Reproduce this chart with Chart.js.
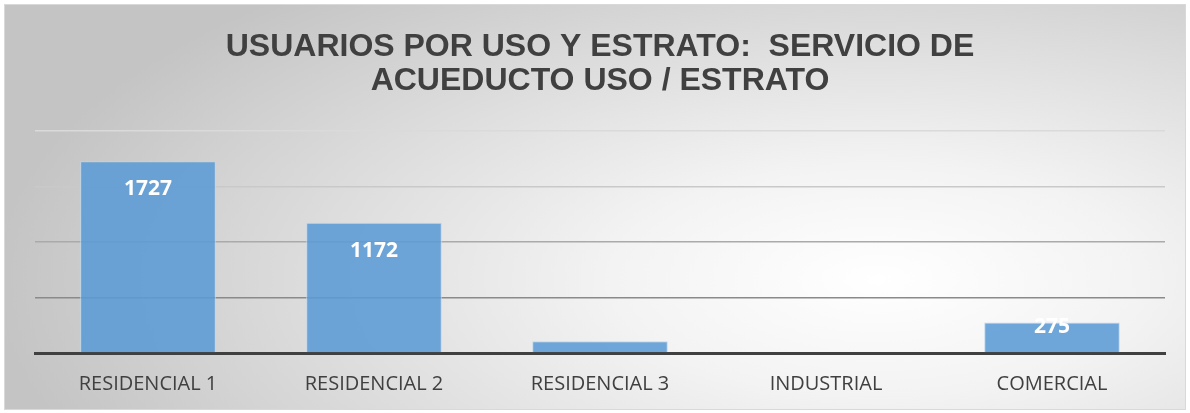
<!DOCTYPE html>
<html>
<head>
<meta charset="utf-8">
<script src="https://cdn.jsdelivr.net/npm/chart.js@4"></script>
<style>
  body { margin: 0; background: #fff; }
  #frame {
    position: absolute; left: 4px; top: 4px; width: 1182px; height: 406px;
    box-sizing: border-box; border: 1px solid #d9d9d9;
    background: radial-gradient(ellipse 75% 95% at 74% 68%, #ffffff 0%, #f3f3f3 30%, #dcdcdc 65%, #c4c4c4 100%);
  }
  #frame canvas { display: block; }
</style>
</head>
<body>
<div id="frame"><canvas id="usoChart" width="1180" height="404"></canvas></div>
<script>
var categorias = ["RESIDENCIAL 1", "RESIDENCIAL 2", "RESIDENCIAL 3", "INDUSTRIAL", "COMERCIAL"];
var usuarios = [1727, 1172, 105, 0, 275];
var tituloLineas = ["USUARIOS POR USO Y ESTRATO:  SERVICIO DE", "ACUEDUCTO USO / ESTRATO"];
var gridColores = { 500: '#8a8a8a', 1000: '#aaaaaa', 1500: '#c9c9c9', 2000: '#dadada' };

// etiquetas blancas dentro de las barras
var etiquetasBarras = {
  id: 'etiquetasBarras',
  afterDatasetsDraw: function (chart) {
    var ctx = chart.ctx;
    var meta = chart.getDatasetMeta(0);
    ctx.save();
    ctx.font = 'bold 21px "Open Sans"';
    ctx.fillStyle = '#ffffff';
    ctx.textAlign = 'center';
    ctx.textBaseline = 'middle';
    meta.data.forEach(function (bar, i) {
      var alto = bar.base - bar.y;
      if (alto < 20) return;
      var y = alto > 60 ? bar.y + 28 : bar.y + 5;
      ctx.fillText(String(usuarios[i]), bar.x, y);
    });
    ctx.restore();
  }
};

new Chart(document.getElementById('usoChart'), {
  type: 'bar',
  data: {
    labels: categorias,
    datasets: [{
      label: 'Usuarios',
      data: usuarios,
      backgroundColor: 'rgba(91, 155, 213, 0.88)',
      borderColor: 'rgba(189, 215, 238, 0.9)',
      borderWidth: 1,
      categoryPercentage: 0.6,
      barPercentage: 1
    }]
  },
  options: {
    responsive: false,
    animation: false,
    layout: { padding: { left: 30, right: 20, top: 0, bottom: -6 } },
    plugins: {
      legend: { display: false },
      tooltip: { enabled: false },
      title: {
        display: true,
        text: tituloLineas,
        color: '#404040',
        font: { family: '"Liberation Sans", Arial', size: 32, weight: 'bold', lineHeight: 1.06 },
        padding: { top: 25, bottom: 33 }
      }
    },
    scales: {
      x: {
        grid: { display: false, drawTicks: false },
        border: { display: true, color: '#404040', width: 3 },
        ticks: { color: '#404040', padding: 19, font: { family: '"Open Sans"', size: 20 } }
      },
      y: {
        min: 0,
        max: 2000,
        ticks: { display: false, stepSize: 500 },
        border: { display: false },
        grid: {
          drawTicks: false,
          lineWidth: 1.5,
          color: function (c) { return gridColores[c.tick.value] || 'rgba(0,0,0,0)'; }
        }
      }
    }
  },
  plugins: [etiquetasBarras]
});
</script>
</body>
</html>
